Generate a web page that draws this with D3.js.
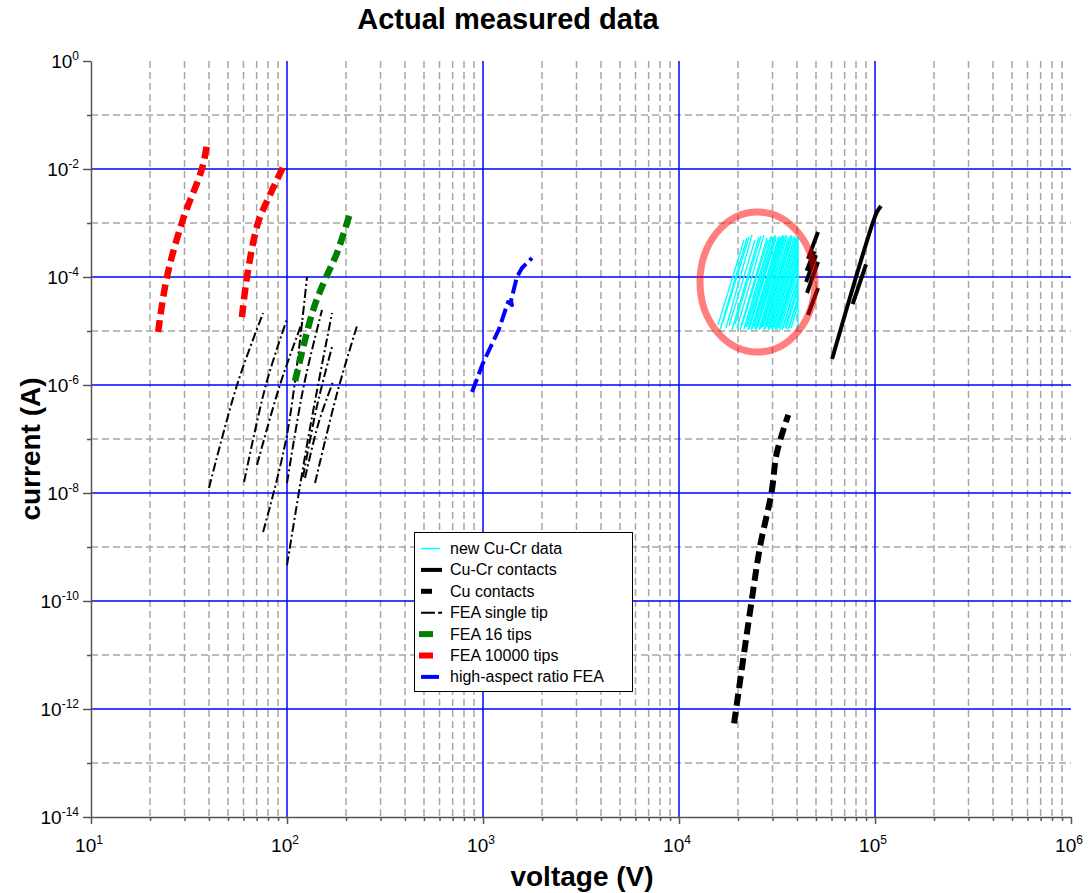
<!DOCTYPE html>
<html>
<head>
<meta charset="utf-8">
<script src="https://cdn.jsdelivr.net/npm/d3@7/dist/d3.min.js"></script>
<style>
  body { margin: 0; background: #fff; }
  svg { display: block; }
  text { font-family: "Liberation Sans", Arial, sans-serif; }
</style>
</head>
<body>
<svg id="chart" width="1089" height="893"></svg>
<script>
// ---------------- data ----------------
// axis decades (exponents)
const xTickExp = [1, 2, 3, 4, 5, 6];
const yTickExp = [0, -2, -4, -6, -8, -10, -12, -14];

// FEA 10000 tips (two runs): voltage (V), current (A)
const fea10000aV = [22.0, 24.4, 29.4, 36.8, 39.1];
const fea10000aI = [9.6e-6, 1e-4, 1.14e-3, 1e-2, 2.9e-2];
const fea10000bV = [58.9, 62.5, 71.1, 81.8, 96.6];
const fea10000bI = [1.8e-5, 1e-4, 1e-3, 3.3e-3, 1.19e-2];

// FEA 16 tips
const fea16V = [110, 136, 156, 180, 209];
const fea16I = [1.19e-6, 2.45e-5, 8.8e-5, 2.8e-4, 1.47e-3];

// high-aspect ratio FEA
const haV = [879, 1000, 1207, 1342, 1406, 1389, 1489, 1581, 1778];
const haI = [7.4e-7, 2.55e-6, 1.09e-5, 3.44e-5, 3.03e-5, 3.6e-5, 1e-4, 1.47e-4, 2.25e-4];

// FEA single tip runs: [V start, I start, V mid, I mid, V end, I end]
const singleTipRuns = [
  [40.0, 1.24e-8, 55.6, 1e-6, 75.5, 2.15e-5],
  [60.4, 1.6e-8, 78.0, 1e-6, 100, 1.67e-5],
  [70.3, 3.3e-8, 92.0, 1e-6, 120.7, 1.6e-5],
  [75.5, 1.9e-9, 100, 1.2e-7, 126.5, 1e-4],
  [100, 4.6e-10, 128, 1.0e-7, 169.7, 2.15e-5],
  [100, 1.53e-8, 122, 1.0e-6, 150.9, 2.45e-5],
  [120.7, 1.98e-8, 142, 4.0e-7, 169.7, 5.06e-6],
  [139, 1.53e-8, 180, 7.0e-7, 227.5, 1.24e-5],
  [123.6, 1.9e-8, 145, 2.0e-7, 171.6, 1.14e-6]
];

// Cu contacts
const cuV = [19100, 23500, 25900, 29700, 31500, 36100];
const cuI = [5.4e-13, 1.04e-10, 1.01e-9, 1.06e-8, 5.4e-8, 2.8e-7];

// Cu-Cr contacts runs: voltage array, current array
const cuCrRuns = [
  [[60400, 80000, 97700, 102300, 107300], [3.03e-6, 1e-4, 1.04e-3, 1.6e-3, 2.07e-3]],
  [[76900, 90000], [3.16e-5, 1.72e-4]],
  [[45500, 51200], [2.16e-4, 6.8e-4]],
  [[44500, 50000], [8.1e-5, 2.55e-4]],
  [[45000, 51200], [5.06e-5, 1.9e-4]],
  [[44800, 49000], [1.3e-4, 3.0e-4]],
  [[45500, 51200], [1.98e-5, 6.25e-5]]
];

// new Cu-Cr data: [V start (kV), I start, V end (kV), I end]
const newCuCrRuns = [
  [15.81, 1.291e-5, 21.46, 4.843e-4],
  [16.19, 1.043e-5, 22.23, 5.275e-4],
  [16.77, 1.468e-5, 22.76, 5.503e-4],
  [17.37, 1.136e-5, 23.58, 5.995e-4],
  [18.00, 1.237e-5, 24.42, 4.843e-4],
  [18.64, 1.043e-5, 25.60, 5.503e-4],
  [19.31, 1.348e-5, 26.21, 5.743e-4],
  [19.77, 1.136e-5, 27.14, 5.995e-4],
  [20.47, 1.043e-5, 28.12, 5.275e-4],
  [20.96, 1.291e-5, 28.45, 4.843e-4],
  [21.46, 1.089e-5, 29.47, 5.743e-4],
  [21.97, 1.186e-5, 29.82, 5.503e-4],
  [22.23, 1.186e-5, 30.53, 5.503e-4],
  [22.49, 1.043e-5, 30.89, 5.995e-4],
  [22.76, 1.089e-5, 31.25, 5.743e-4],
  [23.03, 1.237e-5, 31.25, 5.275e-4],
  [23.30, 1.043e-5, 32.00, 4.843e-4],
  [23.58, 1.089e-5, 32.37, 5.743e-4],
  [23.86, 1.237e-5, 32.76, 5.275e-4],
  [24.14, 1.186e-5, 33.14, 5.503e-4],
  [24.42, 1.089e-5, 33.53, 5.743e-4],
  [24.71, 1.043e-5, 33.93, 5.995e-4],
  [25.00, 1.136e-5, 34.33, 5.743e-4],
  [25.30, 1.237e-5, 34.33, 5.275e-4],
  [25.60, 1.043e-5, 35.15, 5.995e-4],
  [25.90, 1.089e-5, 35.56, 5.743e-4],
  [26.21, 1.136e-5, 35.98, 4.843e-4],
  [26.51, 1.186e-5, 36.41, 5.503e-4],
  [26.83, 1.186e-5, 36.84, 4.843e-4],
  [27.14, 1.043e-5, 37.28, 5.995e-4],
  [27.46, 1.089e-5, 37.72, 5.743e-4],
  [27.79, 1.237e-5, 37.72, 5.275e-4],
  [28.12, 1.186e-5, 38.61, 5.275e-4],
  [28.45, 1.089e-5, 39.07, 5.743e-4],
  [28.79, 1.043e-5, 39.53, 5.275e-4],
  [29.13, 1.186e-5, 40.00, 5.503e-4],
  [29.47, 1.136e-5, 40.47, 5.275e-4],
  [29.82, 1.043e-5, 40.47, 4.262e-4],
  [30.17, 1.136e-5, 40.47, 3.91e-4],
  [30.53, 1.186e-5, 40.47, 3.594e-4],
  [30.89, 1.089e-5, 40.47, 2.9e-4],
  [31.25, 1.043e-5, 40.47, 2.347e-4],
  [31.62, 1.089e-5, 40.47, 2.16e-4],
  [32.00, 1.186e-5, 40.47, 2.0e-4],
  [32.37, 1.136e-5, 40.47, 1.668e-4],
  [32.76, 1.043e-5, 40.47, 1.35e-4],
  [33.53, 1.043e-5, 40.47, 1.0e-4],
  [33.93, 1.136e-5, 40.47, 9.0e-5],
  [34.74, 1.136e-5, 40.47, 7.11e-5],
  [35.15, 1.089e-5, 40.47, 6.0e-5],
  [35.98, 1.043e-5, 40.47, 4.262e-5],
  [36.41, 1.136e-5, 40.47, 3.8e-5],
  [37.28, 1.136e-5, 40.47, 3.03e-5],
  [40.47, 1.043e-5, 40.47, 5.275e-4]
];

// highlighted region: voltage extent (V) and current extent (A)
const highlightV = [12800, 49400];
const highlightI = [4.08e-6, 1.6e-3];

const legendNames = [
  "new Cu-Cr data",
  "Cu-Cr contacts",
  "Cu contacts",
  "FEA single tip",
  "FEA 16 tips",
  "FEA 10000 tips",
  "high-aspect ratio FEA"
];

// ---------------- styles ----------------
const styles = {
  "new Cu-Cr data":        { stroke: "#00ffff", width: 1.4, dash: null,       legW: 1.5, legX: [421, 440] },
  "Cu-Cr contacts":        { stroke: "#000000", width: 4,   dash: null,       legW: 4,   legX: [421, 442] },
  "Cu contacts":           { stroke: "#000000", width: 6,   dash: "12,6",     legW: 5,   legX: [421, 432] },
  "FEA single tip":        { stroke: "#000000", width: 2,   dash: "9,3,2,3",  legW: 2,   legX: [421, 442], legDash: "14,3,4" },
  "FEA 16 tips":           { stroke: "#008000", width: 6.5, dash: "12,6",     legW: 6,   legX: [419, 433] },
  "FEA 10000 tips":        { stroke: "#ff0000", width: 6.5, dash: "12,6",     legW: 6,   legX: [419, 433] },
  "high-aspect ratio FEA": { stroke: "#0000ff", width: 4,   dash: "14,5",     legW: 4,   legX: [421, 439] }
};

// ---------------- layout ----------------
const M = { left: 91, right: 1071, top: 61, bottom: 817 };
const x = d3.scaleLog().domain([1e1, 1e6]).range([M.left, M.right]);
const y = d3.scaleLog().domain([1e-14, 1]).range([M.bottom, M.top]);
const svg = d3.select("#chart");
const zip = (vs, is) => vs.map((v, k) => [v, is[k]]);
const line = d3.line().x(d => x(d[0])).y(d => y(d[1]));
const smoothLine = d3.line().x(d => x(d[0])).y(d => y(d[1])).curve(d3.curveCatmullRom.alpha(0.5));

// ---------------- grid ----------------
const grid = svg.append("g");
const xMinor = [];
for (let e = 1; e <= 5; e++) for (let k = 2; k <= 9; k++) xMinor.push(k * Math.pow(10, e));
const yOdd = [-1, -3, -5, -7, -9, -11, -13].map(e => Math.pow(10, e));
const xBlue = [2, 3, 4, 5].map(e => Math.pow(10, e));
const yBlue = [-2, -4, -6, -8, -10, -12].map(e => Math.pow(10, e));

grid.selectAll(".vminor").data(xMinor).join("line")
  .attr("x1", d => x(d)).attr("x2", d => x(d))
  .attr("y1", M.top).attr("y2", M.bottom)
  .attr("stroke", "#a6a6a6").attr("stroke-width", 1.5).attr("stroke-dasharray", "7,4");
grid.selectAll(".hminor").data(yOdd).join("line")
  .attr("x1", M.left).attr("x2", M.right)
  .attr("y1", d => y(d)).attr("y2", d => y(d))
  .attr("stroke", "#a6a6a6").attr("stroke-width", 1.5).attr("stroke-dasharray", "7,4");
grid.selectAll(".vmajor").data(xBlue).join("line")
  .attr("x1", d => x(d)).attr("x2", d => x(d))
  .attr("y1", M.top).attr("y2", M.bottom)
  .attr("stroke", "#0000ff").attr("stroke-width", 1.5);
grid.selectAll(".hmajor").data(yBlue).join("line")
  .attr("x1", M.left).attr("x2", M.right)
  .attr("y1", d => y(d)).attr("y2", d => y(d))
  .attr("stroke", "#0000ff").attr("stroke-width", 1.5);

// ---------------- series ----------------
const plot = svg.append("g").attr("fill", "none");
function drawPath(pts, name, smooth) {
  const s = styles[name];
  plot.append("path").attr("d", (smooth ? smoothLine : line)(pts))
    .attr("stroke", s.stroke).attr("stroke-width", s.width)
    .attr("stroke-dasharray", s.dash)
    .attr("stroke-linejoin", "round");
}

newCuCrRuns.forEach(r => drawPath([[r[0] * 1000, r[1]], [r[2] * 1000, r[3]]], "new Cu-Cr data"));
singleTipRuns.forEach(r => drawPath([[r[0], r[1]], [r[2], r[3]], [r[4], r[5]]], "FEA single tip", true));
drawPath(zip(fea10000aV, fea10000aI), "FEA 10000 tips", true);
drawPath(zip(fea10000bV, fea10000bI), "FEA 10000 tips", true);
drawPath(zip(fea16V, fea16I), "FEA 16 tips", true);
drawPath(zip(haV, haI), "high-aspect ratio FEA");
drawPath(zip(cuV, cuI), "Cu contacts", true);
cuCrRuns.forEach(r => drawPath(zip(r[0], r[1]), "Cu-Cr contacts", true));

// highlight ellipse around the new data
const ex0 = x(highlightV[0]), ex1 = x(highlightV[1]);
const ey0 = y(highlightI[1]), ey1 = y(highlightI[0]);
svg.append("ellipse")
  .attr("cx", (ex0 + ex1) / 2).attr("cy", (ey0 + ey1) / 2)
  .attr("rx", (ex1 - ex0) / 2).attr("ry", (ey1 - ey0) / 2)
  .attr("fill", "none").attr("stroke", "#ff0000").attr("stroke-opacity", 0.5)
  .attr("stroke-width", 7);

// ---------------- axes ----------------
const axisColor = "#555";
const xMajorVals = xTickExp.map(e => Math.pow(10, e));
const yMajorVals = yTickExp.map(e => Math.pow(10, e));

const gx = svg.append("g").attr("transform", `translate(0,${M.bottom})`)
  .call(d3.axisBottom(x).tickValues(xMajorVals).tickSize(7).tickSizeOuter(0).tickFormat(() => ""));
const gxm = svg.append("g").attr("transform", `translate(0,${M.bottom})`)
  .call(d3.axisBottom(x).tickValues(xMinor).tickSize(4).tickSizeOuter(0).tickFormat(() => ""));
gxm.select(".domain").remove();

const gy = svg.append("g").attr("transform", `translate(${M.left},0)`)
  .call(d3.axisLeft(y).tickValues(yMajorVals).tickSize(8).tickSizeOuter(0).tickFormat(() => ""));
const gym = svg.append("g").attr("transform", `translate(${M.left},0)`)
  .call(d3.axisLeft(y).tickValues(yOdd).tickSize(4).tickSizeOuter(0).tickFormat(() => ""));
gym.select(".domain").remove();

[gx, gxm, gy, gym].forEach(g => {
  g.selectAll("path, line").attr("stroke", axisColor).attr("stroke-width", 1.5);
  g.selectAll("text").remove();
});

// x tick labels: 10^n
const xl = svg.append("g").selectAll("text").data(xTickExp).join("text")
  .attr("x", d => x(Math.pow(10, d)) - 2).attr("y", 852)
  .attr("text-anchor", "middle").attr("font-size", 19).attr("fill", "#000");
xl.append("tspan").text("10");
xl.append("tspan").attr("dy", -8).attr("font-size", 12).text(d => d);

// y tick labels: 10^n
const yl = svg.append("g").selectAll("text").data(yTickExp).join("text")
  .attr("x", 79).attr("y", d => y(Math.pow(10, d)) + 6.5)
  .attr("text-anchor", "end").attr("font-size", 19).attr("fill", "#000");
yl.append("tspan").text("10");
yl.append("tspan").attr("dy", -8).attr("font-size", 12).text(d => d);

// ---------------- legend ----------------
const leg = svg.append("g");
leg.append("rect").attr("x", 414.5).attr("y", 532.5).attr("width", 218).attr("height", 159)
  .attr("fill", "#fff").attr("stroke", "#000").attr("stroke-width", 1);
const rows = leg.selectAll("g.row").data(legendNames).join("g")
  .attr("transform", (d, i) => `translate(0,${548.5 + i * 21.4})`);
rows.append("line")
  .attr("x1", d => styles[d].legX[0]).attr("x2", d => styles[d].legX[1])
  .attr("y1", 0).attr("y2", 0)
  .attr("stroke", d => styles[d].stroke).attr("stroke-width", d => styles[d].legW)
  .attr("stroke-dasharray", d => styles[d].legDash || null);
rows.append("text").attr("x", 450).attr("y", 5.5)
  .attr("font-size", 16).attr("fill", "#000").text(d => d);

// ---------------- titles ----------------
svg.append("text").attr("x", 508).attr("y", 29).attr("text-anchor", "middle")
  .attr("font-size", 29).attr("font-weight", "bold").text("Actual measured data");
svg.append("text").attr("x", 582).attr("y", 886).attr("text-anchor", "middle")
  .attr("font-size", 28).attr("font-weight", "bold").text("voltage (V)");
svg.append("text").attr("transform", "translate(40,449) rotate(-90)").attr("text-anchor", "middle")
  .attr("font-size", 28).attr("font-weight", "bold").text("current (A)");
</script>
</body>
</html>
